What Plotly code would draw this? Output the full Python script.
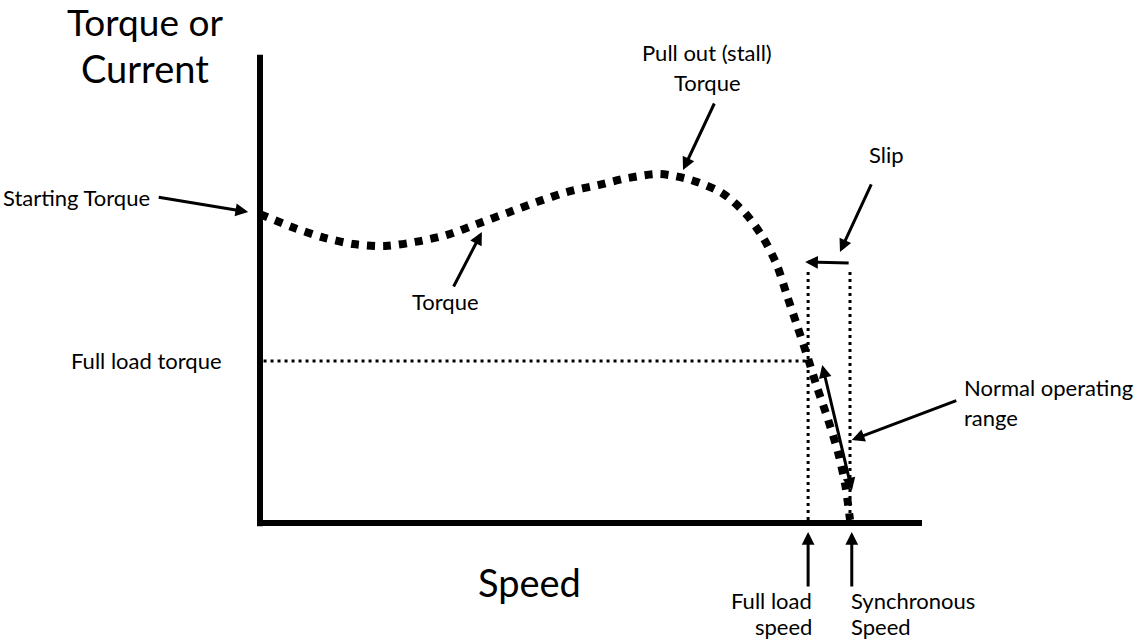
import plotly.graph_objects as go

# ---- data (speed in % of synchronous speed, torque in % of full-load torque) ----
speed = [0, 5.4, 10.5, 15.8, 21.2, 26.3, 31.7, 36.8, 41.9, 46.9, 52.0, 57.3, 62.4,
         67.8, 73.1, 78.3, 82.2, 85.3, 87.6, 89.3, 91.0, 92.7, 94.4, 96.3, 98.0, 99.2, 100]
torque = [190.7, 182.7, 176.5, 172.2, 171.0, 173.5, 177.8, 184.6, 191.4, 198.1, 204.3,
          208.6, 213.0, 215.4, 211.7, 203.7, 191.4, 175.9, 159.3, 140.7, 122.2, 103.7,
          84.0, 63.6, 43.2, 23.5, 2.0]
full_load_torque = 100
full_load_speed = 92.9
sync_speed = 100
slip_top = 155
axis_x_max = 112.2
axis_y_max = 289

W, H = 1140, 641
X0, KX = 260, 5.9      # pixel of speed 0, pixels per % speed
Y0, KY = 523, 1.62     # pixel of torque 0, pixels per % torque
xr = [(0 - X0) / KX, (W - X0) / KX]
yr = [(Y0 - H) / KY, Y0 / KY]

FONT = "Lato, Carlito, Calibri, 'Open Sans', sans-serif"

fig = go.Figure()

# axes
fig.add_trace(go.Scatter(x=[0, 0], y=[-2, axis_y_max], mode="lines",
                         line=dict(color="black", width=6), hoverinfo="skip"))
fig.add_trace(go.Scatter(x=[-0.5, axis_x_max], y=[0, 0], mode="lines",
                         line=dict(color="black", width=6), hoverinfo="skip"))
# full load torque line
fig.add_trace(go.Scatter(x=[0.6, full_load_speed], y=[full_load_torque, full_load_torque],
                         mode="lines", line=dict(color="black", width=3, dash="3px,4px"),
                         hoverinfo="skip"))
# full load speed and synchronous speed verticals
fig.add_trace(go.Scatter(x=[full_load_speed, full_load_speed], y=[slip_top, 0], mode="lines",
                         line=dict(color="black", width=3, dash="3px,4px"), hoverinfo="skip"))
fig.add_trace(go.Scatter(x=[sync_speed, sync_speed], y=[slip_top, 0], mode="lines",
                         line=dict(color="black", width=3, dash="3px,4px"), hoverinfo="skip"))
# torque curve
fig.add_trace(go.Scatter(x=speed, y=torque, mode="lines",
                         line=dict(color="black", width=8, dash="8px,8px", shape="spline",
                                   smoothing=0.8), hoverinfo="skip"))


def P(px, py):
    return px / W, 1 - py / H


def label(text, px, py, size=22, xanchor="center"):
    x, y = P(px, py)
    fig.add_annotation(x=x, y=y, xref="paper", yref="paper", text=text, showarrow=False,
                       xanchor=xanchor, yanchor="middle", borderpad=0,
                       font=dict(family=FONT, size=size, color="black"))


def arrow(x, y, ax, ay, both=False):
    kw = {}
    if both:
        kw = dict(arrowside="end+start", startarrowhead=2, startarrowsize=0.85)
    fig.add_annotation(x=x, y=y, xref="x", yref="y", ax=ax, ay=ay, text="",
                       showarrow=True, arrowhead=2, arrowsize=0.85, arrowwidth=3,
                       arrowcolor="black", standoff=0, **kw)


# text labels
label("Torque or", 145, 21, size=37)
label("Current", 145, 68, size=38)
label("Speed", 529, 582, size=38)
label("Starting Torque", 151, 197, xanchor="right")
label("Pull out (stall)", 707, 53)
label("Torque", 707, 82)
label("Slip", 886, 155)
label("Torque", 445, 301)
label("Full load torque", 223, 360, xanchor="right")
label("Normal operating", 963, 387, xanchor="left")
label("range", 963, 417, xanchor="left")
label("Full load", 813, 600, xanchor="right")
label("speed", 813, 626, xanchor="right")
label("Synchronous", 850, 600, xanchor="left")
label("Speed", 850, 626, xanchor="left")

# arrows
arrow(-2.0, 192.0, -91, -15)          # starting torque
arrow(71.7, 217.9, 32, -68)           # pull-out torque
arrow(37.6, 179.6, -29, 56)           # torque
arrow(98.3, 167.3, 32, -69)           # slip label
arrow(92.4, 161.1, 45, 1)             # slip width
arrow(100.3, 51.2, 106, -40)          # normal operating range
arrow(95.3, 97.5, 30, 127, both=True) # range along curve
arrow(full_load_speed, -5.6, 0, 56)   # full load speed
arrow(sync_speed + 0.3, -5.6, 0, 56)  # synchronous speed

fig.update_layout(
    width=W, height=H, autosize=False,
    margin=dict(l=0, r=0, t=0, b=0),
    paper_bgcolor="white", plot_bgcolor="white",
    showlegend=False,
    xaxis=dict(range=xr, visible=False, fixedrange=True),
    yaxis=dict(range=yr, visible=False, fixedrange=True),
)

fig.write_html("out.html", config={"displayModeBar": False},
               post_script="document.body.style.margin='0';document.body.style.overflow='hidden';")
